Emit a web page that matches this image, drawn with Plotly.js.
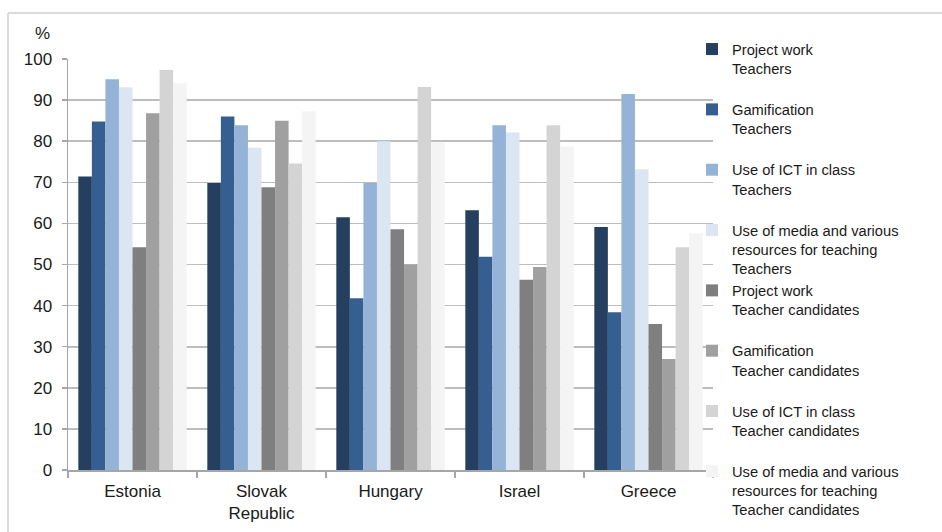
<!DOCTYPE html>
<html>
<head>
<meta charset="utf-8">
<script src="https://cdn.plot.ly/plotly-3.0.1.min.js"></script>
<style>html,body{margin:0;padding:0;background:#fff;}#chart{width:942px;height:532px;}</style>
</head>
<body>
<div id="chart"></div>
<script>
const countries = ["Estonia", "Slovak<br>Republic", "Hungary", "Israel", "Greece"];
const seriesNames = [
  "Project work<br>Teachers<br> ",
  "Gamification<br>Teachers<br> ",
  "Use of ICT in class<br>Teachers<br> ",
  "Use of media and various<br>resources for teaching<br>Teachers",
  "Project work<br>Teacher candidates<br> ",
  "Gamification<br>Teacher candidates<br> ",
  "Use of ICT in class<br>Teacher candidates<br> ",
  "Use of media and various<br>resources for teaching<br>Teacher candidates"
];
const projectWorkTeachers      = [71.4, 69.8, 61.5, 63.2, 59.1];
const gamificationTeachers     = [84.8, 86.0, 41.8, 51.9, 38.4];
const ictTeachers              = [95.1, 83.9, 69.8, 83.9, 91.5];
const mediaTeachers            = [93.1, 78.4, 80.0, 82.1, 73.2];
const projectWorkCandidates    = [54.2, 68.8, 58.6, 46.3, 35.5];
const gamificationCandidates   = [86.8, 85.0, 50.0, 49.4, 27.0];
const ictCandidates            = [97.3, 74.6, 93.2, 83.9, 54.2];
const mediaCandidates          = [94.1, 87.3, 79.7, 78.7, 57.6];
const seriesValues = [projectWorkTeachers, gamificationTeachers, ictTeachers, mediaTeachers,
  projectWorkCandidates, gamificationCandidates, ictCandidates, mediaCandidates];
const colors = ["#253F61", "#365F91", "#95B3D7", "#DCE6F2", "#7F7F7F", "#A0A0A0", "#D4D4D4", "#F4F4F4"];

const FONT = "'Liberation Sans', Arial, sans-serif";
const traces = seriesValues.map((vals, i) => ({
  type: "bar",
  name: seriesNames[i],
  x: countries,
  y: vals,
  marker: {color: colors[i], line: {width: 0}},
  hoverinfo: "x+y+name"
}));

// pixel helpers for plot area: x 68..713, y 470..59
const L = 68, R = 713, T = 59, B = 470;
const px = v => (v - L) / (R - L);
const py = v => (B - v) / (B - T);

const layout = {
  width: 942, height: 532,
  margin: {l: L, r: 942 - R, t: T, b: 532 - B, pad: 0},
  paper_bgcolor: "#ffffff",
  plot_bgcolor: "#ffffff",
  font: {family: FONT, size: 16, color: "#1a1a1a"},
  barmode: "group",
  bargap: 0.16,
  bargroupgap: 0,
  showlegend: true,
  legend: {
    x: px(692), xanchor: "left",
    y: py(33), yanchor: "top",
    font: {family: FONT, size: 14.7, color: "#1a1a1a"},
    bgcolor: "rgba(0,0,0,0)",
    valign: "top",
    tracegroupgap: 0,
    maxheight: 600,
    itemclick: false
  },
  xaxis: {
    type: "category",
    showgrid: false,
    showline: true, linecolor: "#A6A6A6", linewidth: 1.5,
    ticks: "outside", ticklen: 6, tickcolor: "#A6A6A6", tickwidth: 1.5,
    tickson: "boundaries",
    ticklabelstandoff: 5,
    tickfont: {family: FONT, size: 17, color: "#1a1a1a"},
    zeroline: false
  },
  yaxis: {
    range: [0, 100],
    tickvals: [0, 10, 20, 30, 40, 50, 60, 70, 80, 90, 100],
    showgrid: true, gridcolor: "#BDBDBD", gridwidth: 1.6,
    showline: true, linecolor: "#A6A6A6", linewidth: 1.5,
    ticks: "outside", ticklen: 5, tickcolor: "#A6A6A6", tickwidth: 1.5,
    ticklabelstandoff: 6,
    tickfont: {family: FONT, size: 17, color: "#1a1a1a"},
    zeroline: false
  },
  annotations: [{
    text: "%", xref: "paper", yref: "paper",
    x: px(42), y: py(33), xanchor: "center", yanchor: "middle",
    showarrow: false, font: {family: FONT, size: 17, color: "#1a1a1a"}
  }],
  shapes: [
    {type: "line", xref: "paper", yref: "paper", x0: px(8), x1: px(960), y0: py(13), y1: py(13),
     line: {color: "#CFCFCF", width: 1.5}, layer: "below"},
    {type: "line", xref: "paper", yref: "paper", x0: px(8), x1: px(8), y0: py(13), y1: py(560),
     line: {color: "#CFCFCF", width: 1.5}, layer: "below"}
  ]
};

Plotly.newPlot("chart", traces, layout, {displayModeBar: false, staticPlot: true});
</script>
</body>
</html>
